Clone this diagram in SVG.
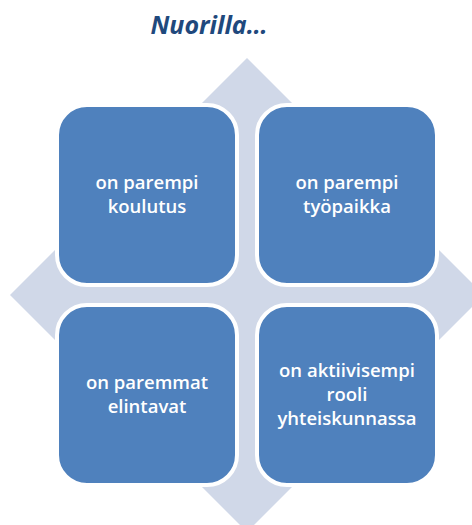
<svg xmlns="http://www.w3.org/2000/svg" width="472" height="525" viewBox="0 0 472 525">
<style>
.box{fill:#4F81BD;stroke:#FFFFFF;stroke-width:4}
.lbl{font-family:"Open Sans","Liberation Sans",sans-serif;font-size:18.5px;font-weight:600;fill:#FFFFFF;text-anchor:middle}
.title{font-family:"Open Sans","Liberation Sans",sans-serif;font-size:25px;font-weight:bold;font-style:italic;fill:#1F497D;text-anchor:middle}
</style>
<rect width="472" height="525" fill="#FFFFFF"/>
<text class="title" x="209" y="34">Nuorilla…</text>
<g id="background">
<polygon points="247,58 484,295 247,532 10,295" fill="#D0D8E8"/>
</g>
<g id="connectors"></g>
<g id="node1">
<rect class="box" x="57" y="105" width="180" height="180" rx="30"/>
<text class="lbl" x="147" y="189">on parempi</text>
<text class="lbl" x="147" y="213">koulutus</text>
</g>
<g id="node2">
<rect class="box" x="257" y="105" width="180" height="180" rx="30"/>
<text class="lbl" x="347" y="189">on parempi</text>
<text class="lbl" x="347" y="213">työpaikka</text>
</g>
<g id="node3">
<rect class="box" x="57" y="305" width="180" height="180" rx="30"/>
<text class="lbl" x="147" y="389">on paremmat</text>
<text class="lbl" x="147" y="413">elintavat</text>
</g>
<g id="node4">
<rect class="box" x="257" y="305" width="180" height="180" rx="30"/>
<text class="lbl" x="347" y="377">on aktiivisempi</text>
<text class="lbl" x="347" y="401">rooli</text>
<text class="lbl" x="347" y="425">yhteiskunnassa</text>
</g>
</svg>
